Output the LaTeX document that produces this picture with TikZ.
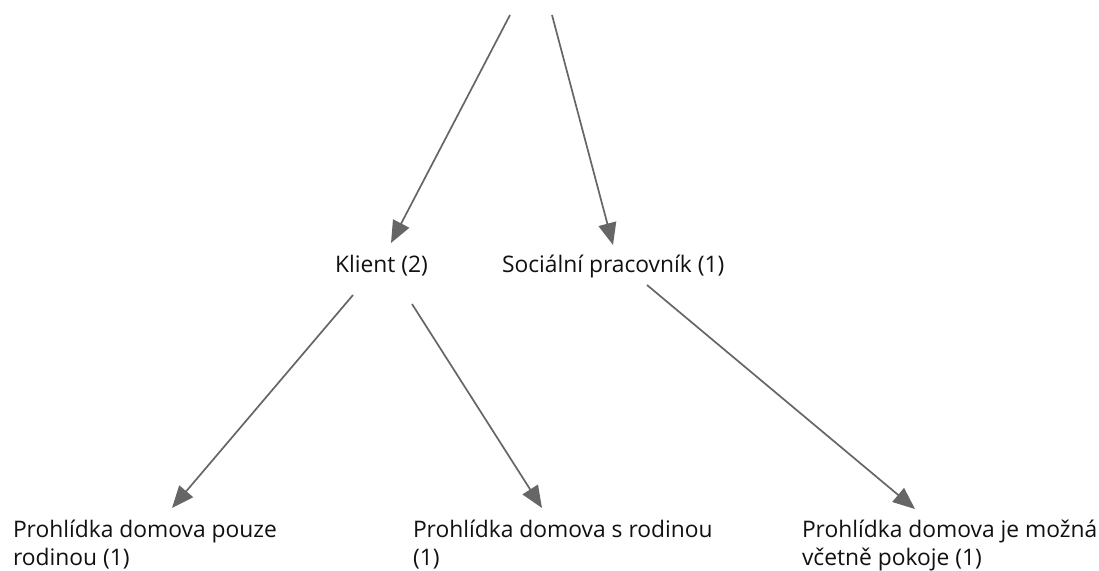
\documentclass[tikz,border=0pt]{standalone}
\usepackage{fontspec}
\setmainfont{Open Sans}
\usetikzlibrary{arrows.meta}
\definecolor{edgegray}{HTML}{666666}
\definecolor{textgray}{HTML}{111111}
\begin{document}
\begin{tikzpicture}[x=1pt,y=-1pt,
  lbl/.style={inner sep=0pt, outer sep=0pt, text=textgray, font=\fontsize{22.8}{28}\selectfont, anchor=base west, align=left},
  conn/.style={draw=edgegray, line width=1.7pt, -{Triangle[length=22pt,width=18pt]}}]
\useasboundingbox (0,0) rectangle (1099,570);
\fill[white] (0,0) rectangle (1099,570);
% nodes (multi-line nodes are anchored at the baseline of their last line)
\node[lbl] (klient) at (335,272) {Klient (2)};
\node[lbl] (soc) at (502,272) {Sociální pracovník (1)};
\node[lbl] (pouze) at (13,565) {Prohlídka domova pouze\\rodinou (1)};
\node[lbl] (srod) at (413,565) {Prohlídka domova s rodinou\\(1)};
\node[lbl] (mozna) at (802,565) {Prohlídka domova je možná\\včetně pokoje (1)};
% connector end points
\coordinate (top1) at (510,15);
\coordinate (top2) at (552,15);
\coordinate (kin) at (391,243);
\coordinate (sin) at (613,245);
\coordinate (kout1) at (353,295);
\coordinate (kout2) at (412,304);
\coordinate (sout) at (647,285);
\coordinate (pin) at (172,508);
\coordinate (rin) at (542,508);
\coordinate (min) at (915,509);
% connectors
\draw[conn] (top1) -- (kin);
\draw[conn] (top2) -- (sin);
\draw[conn] (kout1) -- (pin);
\draw[conn] (kout2) -- (rin);
\draw[conn] (sout) -- (min);
\end{tikzpicture}
\end{document}
